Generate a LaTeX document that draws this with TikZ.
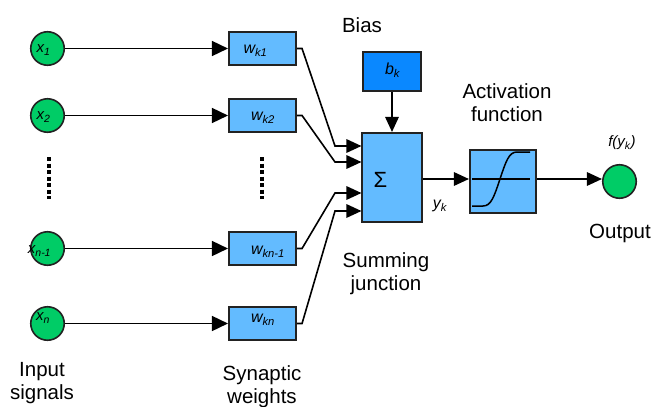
\documentclass[tikz,border=0pt]{standalone}
\usepackage{fontspec}
\setmainfont{Liberation Sans}
\usetikzlibrary{arrows.meta}
\definecolor{wblue}{RGB}{99,187,255}
\definecolor{bblue}{RGB}{10,136,255}
\definecolor{ngreen}{RGB}{0,204,102}
\definecolor{edgec}{RGB}{34,34,34}
\begin{document}
\begin{tikzpicture}[x=1pt,y=-1pt,
  neuron/.style={circle,draw=edgec,line width=1.6pt,fill=ngreen,minimum size=33.5pt,inner sep=0pt},
  wbox/.style={rectangle,draw=edgec,line width=1.6pt,fill=wblue,minimum width=67.5pt,minimum height=33.5pt,inner sep=0pt},
  conn/.style={line width=1.6pt,draw=black},
  arr/.style={conn,-{Triangle[length=16pt,width=15pt]}},
  sarr/.style={conn,-{Triangle[length=15pt,width=13.5pt]}},
  lbl/.style={font=\fontsize{20.5}{23}\selectfont,align=center,inner sep=0pt},
  sym/.style={font=\fontsize{16}{18}\selectfont\itshape,inner sep=0pt},
  dotcol/.style={line width=4pt,dash pattern=on 4pt off 2.5pt}]
\useasboundingbox (0,0) rectangle (654,407);

% input neurons
\node[neuron] (x1) at (47.5,48.5) {};
\node[neuron] (x2) at (47.5,115.5) {};
\node[neuron] (xm) at (47.5,248.5) {};
\node[neuron] (xn) at (47.5,323.5) {};
\node[sym,font=\fontsize{15}{17}\selectfont\itshape] (tx1) at (43.5,50) {x\textsubscript{1}};
\node[sym,font=\fontsize{15}{17}\selectfont\itshape] (tx2) at (43.5,117) {x\textsubscript{2}};
\node[sym,font=\fontsize{15}{17}\selectfont\itshape] (txm) at (39.5,251) {x\textsubscript{n-1}};
\node[sym,font=\fontsize{15}{17}\selectfont\itshape] (txn) at (43,318) {x\textsubscript{n}};

% weights
\node[wbox] (w1) at (262.5,48.5) {};
\node[wbox] (w2) at (262.5,115.5) {};
\node[wbox] (wm) at (262.5,248.5) {};
\node[wbox] (wn) at (262.5,323.5) {};
\node[sym] (tw1) at (255.5,51) {w\textsubscript{k1}};
\node[sym] (tw2) at (263,118) {w\textsubscript{k2}};
\node[sym] (twm) at (268,252) {w\textsubscript{kn-1}};
\node[sym] (twn) at (263,320) {w\textsubscript{kn}};

% dotted columns
\draw[dotcol] (49,157) -- (49,198.5);
\draw[dotcol] (262,157) -- (262,198.5);

% summing junction and bias
\node[rectangle,draw=edgec,line width=1.6pt,fill=wblue,minimum width=59.5pt,minimum height=89.5pt,inner sep=0pt] (sum) at (392,177.5) {};
\node[font=\fontsize{22}{24}\selectfont,inner sep=0pt] (sig) at (380.5,179.5) {Σ};
\node[rectangle,draw=edgec,line width=1.6pt,fill=bblue,minimum width=58.5pt,minimum height=39.5pt,inner sep=0pt] (bias) at (392,71.5) {};
\node[sym] (tb) at (392.5,70) {b\textsubscript{k}};

% activation
\node[rectangle,draw=edgec,line width=1.6pt,fill=wblue,minimum width=66.5pt,minimum height=63.5pt,inner sep=0pt] (act) at (503,181.5) {};
\draw[line width=1.5pt] (472,179) -- (530,179);
\draw[line width=1.5pt] (472,206) -- (483,206) .. controls (491,206) and (494,197) .. (500,179) .. controls (506,161) and (509,152) .. (517,152) -- (530,152);

% output
\node[neuron] (out) at (619.5,181.5) {};

% connectors
\draw[arr] (x1) -- (w1);
\draw[arr] (x2) -- (w2);
\draw[arr] (xm) -- (wm);
\draw[arr] (xn) -- (wn);

\coordinate (e1) at (335,146);
\coordinate (e2) at (335,162);
\coordinate (e3) at (335,193);
\coordinate (e4) at (335,211);
\draw[sarr] (w1.east) -- ++(5,0) -- (e1) -- (sum.west |- e1);
\draw[sarr] (w2.east) -- ++(5,0) -- (e2) -- (sum.west |- e2);
\draw[sarr] (wm.east) -- ++(5,0) -- (e3) -- (sum.west |- e3);
\draw[sarr] (wn.east) -- ++(5,0) -- (e4) -- (sum.west |- e4);

\draw[sarr] (bias.south) -- (sum.north);

\coordinate (ya) at (0,179);
\draw[sarr] (sum.east |- ya) -- (act.west |- ya);
\draw[sarr] (act.east |- ya) -- (out.west |- ya);

% labels
\node[lbl] (lbias) at (362,25) {Bias};
\node[lbl] (lact) at (507,103) {Activation\\function};
\node[sym,font=\fontsize{15}{17}\selectfont\itshape] (lf) at (622,143) {f(y\textsubscript{k})};
\node[lbl] (lout) at (620,233) {Output};
\node[sym] (lyk) at (440,206) {y\textsubscript{k}};
\node[lbl] (lsum) at (386,273.5) {Summing\\junction};
\node[lbl] (lin) at (42,383.5) {Input\\signals};
\node[lbl] (lsyn) at (262,387) {Synaptic\\weights};
\end{tikzpicture}
\end{document}
